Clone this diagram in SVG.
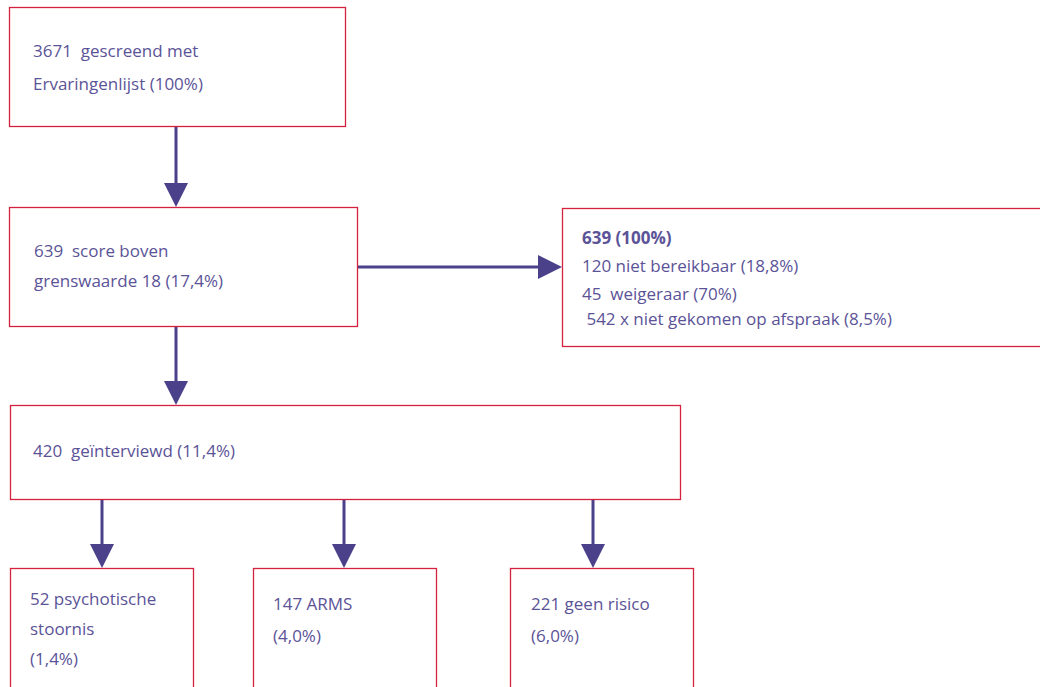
<svg xmlns="http://www.w3.org/2000/svg" width="1040" height="687" viewBox="0 0 1040 687">
<defs>
<style>
.box{fill:#fff;stroke:#d4213d;stroke-width:1.3}
.t{font-family:"Open Sans","Liberation Sans",sans-serif;font-size:17px;fill:#5b5397;white-space:pre}
.b{font-weight:bold}
.c{stroke:#4b418a;stroke-width:3;fill:none}
</style>
</defs>
<rect width="1040" height="687" fill="#fff"/>
<g id="connectors">
<line class="c" x1="176" y1="127" x2="176" y2="186"/>
<path d="M164,183 L188,183 L176,207 z" fill="#4b418a"/>
<line class="c" x1="358" y1="267" x2="541" y2="267"/>
<path d="M538,255 L538,279 L562,267 z" fill="#4b418a"/>
<line class="c" x1="176" y1="327" x2="176" y2="384"/>
<path d="M164,381 L188,381 L176,405 z" fill="#4b418a"/>
<line class="c" x1="102" y1="500" x2="102" y2="547"/>
<path d="M90,544 L114,544 L102,568 z" fill="#4b418a"/>
<line class="c" x1="344" y1="500" x2="344" y2="547"/>
<path d="M332,544 L356,544 L344,568 z" fill="#4b418a"/>
<line class="c" x1="593" y1="500" x2="593" y2="547"/>
<path d="M581,544 L605,544 L593,568 z" fill="#4b418a"/>
</g>
<g id="node1">
<rect class="box" x="9.5" y="7.5" width="336" height="119"/>
<text class="t" x="33" y="57" xml:space="preserve">3671  gescreend met</text>
<text class="t" x="33" y="90">Ervaringenlijst (100%)</text>
</g>
<g id="node2">
<rect class="box" x="9.5" y="207.5" width="348" height="119"/>
<text class="t" x="34" y="257" xml:space="preserve">639  score boven</text>
<text class="t" x="34" y="287">grenswaarde 18 (17,4%)</text>
</g>
<g id="node3">
<rect class="box" x="562.5" y="208.5" width="480" height="138"/>
<text class="t b" x="582" y="244">639 (100%)</text>
<text class="t" x="582" y="272">120 niet bereikbaar (18,8%)</text>
<text class="t" x="582" y="300" xml:space="preserve">45  weigeraar (70%)</text>
<text class="t" x="582" y="325" xml:space="preserve"> 542 x niet gekomen op afspraak (8,5%)</text>
</g>
<g id="node4">
<rect class="box" x="10.5" y="405.5" width="670" height="94"/>
<text class="t" x="33" y="457" xml:space="preserve">420  geïnterviewd (11,4%)</text>
</g>
<g id="node5">
<rect class="box" x="10.5" y="568.5" width="183" height="125"/>
<text class="t" x="30" y="605">52 psychotische</text>
<text class="t" x="30" y="635">stoornis</text>
<text class="t" x="30" y="665">(1,4%)</text>
</g>
<g id="node6">
<rect class="box" x="253.5" y="568.5" width="183" height="125"/>
<text class="t" x="273" y="610">147 ARMS</text>
<text class="t" x="273" y="642">(4,0%)</text>
</g>
<g id="node7">
<rect class="box" x="510.5" y="568.5" width="183" height="125"/>
<text class="t" x="531" y="610">221 geen risico</text>
<text class="t" x="531" y="642">(6,0%)</text>
</g>
</svg>
